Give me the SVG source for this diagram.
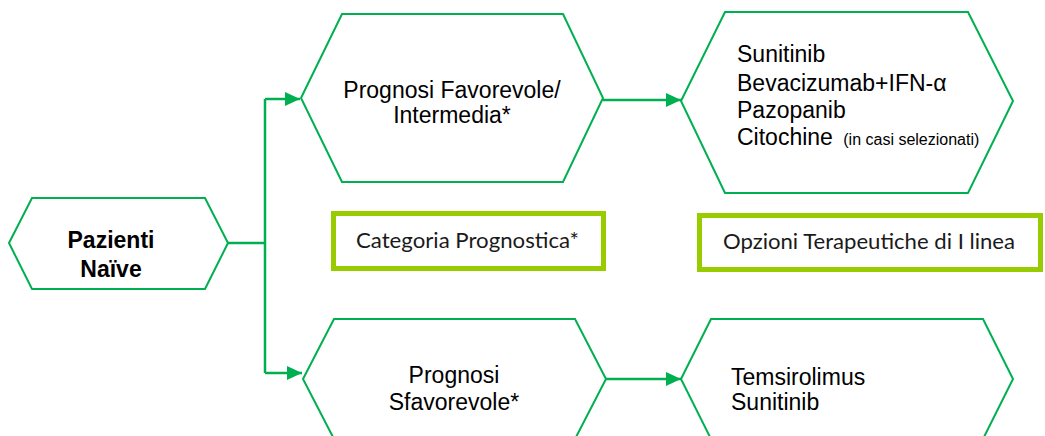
<svg xmlns="http://www.w3.org/2000/svg" width="1045" height="436" viewBox="0 0 1045 436">
<style>
.hex{fill:#fff;stroke:#00B050;stroke-width:2}
.conn{fill:none;stroke:#00B050;stroke-width:2.5}
.t{font-family:"Liberation Sans",Arial,sans-serif;font-size:23px;fill:#000}
.b{font-weight:bold}
.box{fill:#fff;stroke:#99CC00;stroke-width:5}
.bt{font-family:Lato,"Open Sans",sans-serif;font-size:21px;fill:#1a1a1a}
.s{font-size:16px}
</style>
<defs>
<marker id="arr" markerUnits="userSpaceOnUse" markerWidth="16" markerHeight="14" refX="15" refY="7" orient="auto">
<path d="M0,0 L15,7 L0,14 Z" fill="#00B050"/>
</marker>
</defs>
<rect width="1045" height="436" fill="#fff"/>
<g id="connectors">
<path class="conn" d="M228,243 H265"/>
<path class="conn" d="M265,99 V373"/>
<path class="conn" d="M265,99 H300" marker-end="url(#arr)"/>
<path class="conn" d="M265,373 H302" marker-end="url(#arr)"/>
<path class="conn" d="M603,100 H681" marker-end="url(#arr)"/>
<path class="conn" d="M606,379 H681" marker-end="url(#arr)"/>
</g>
<g id="pazienti">
<polygon class="hex" points="9,243 32,198 205,198 228,243 205,289 32,289"/>
<text class="t b" x="111" y="248" text-anchor="middle">Pazienti</text>
<text class="t b" x="111" y="277" text-anchor="middle">Naïve</text>
</g>
<g id="favorevole">
<polygon class="hex" points="301,98 342,14 563,14 603,98 563,182 342,182"/>
<text class="t" x="452" y="98" text-anchor="middle">Prognosi Favorevole/</text>
<text class="t" x="452" y="123" text-anchor="middle">Intermedia*</text>
</g>
<g id="opzioni-fav">
<polygon class="hex" points="681,101 725,12 968,12 1013,101 968,193 725,193"/>
<text class="t" x="737" y="62">Sunitinib</text>
<text class="t" x="737" y="91">Bevacizumab+IFN-α</text>
<text class="t" x="737" y="118">Pazopanib</text>
<text class="t" x="737" y="145">Citochine <tspan class="s" dx="4">(in casi selezionati)</tspan></text>
</g>
<g id="categoria">
<rect class="box" x="333.5" y="213.5" width="270" height="55"/>
<text class="bt" x="356" y="248" textLength="223" lengthAdjust="spacingAndGlyphs">Categoria Prognostica*</text>
</g>
<g id="opzioni-label">
<rect class="box" x="699.5" y="215.5" width="341" height="54"/>
<text class="bt" x="723" y="249" textLength="292" lengthAdjust="spacingAndGlyphs">Opzioni Terapeutiche di I linea</text>
</g>
<g id="sfavorevole">
<polygon class="hex" points="303,379 334,319 575,319 606,379 575,439 334,439"/>
<text class="t" x="454" y="383" text-anchor="middle">Prognosi</text>
<text class="t" x="454" y="410" text-anchor="middle">Sfavorevole*</text>
</g>
<g id="opzioni-sfav">
<polygon class="hex" points="681,379 711,319 983,319 1013,379 983,439 711,439"/>
<text class="t" x="731" y="385">Temsirolimus</text>
<text class="t" x="731" y="410">Sunitinib</text>
</g>
</svg>
